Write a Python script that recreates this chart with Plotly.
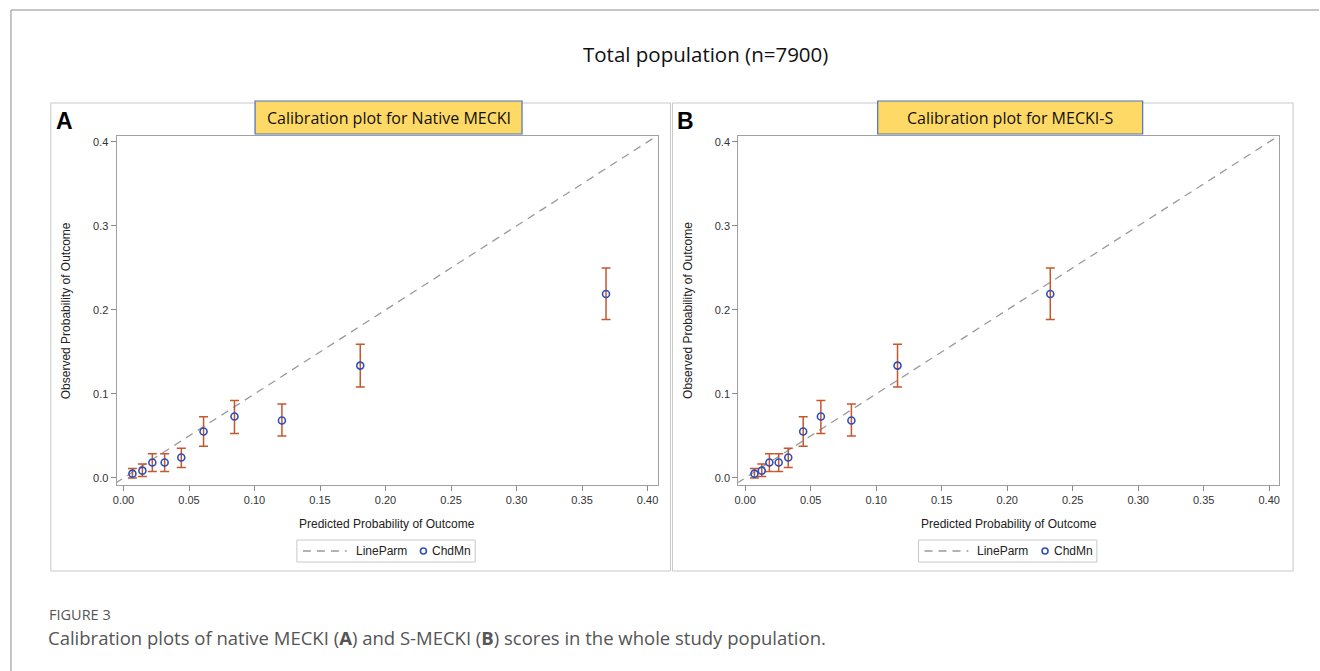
import plotly.graph_objects as go

W, H = 1320, 671

# ---- data ----
pred_native = [0.0068, 0.0144, 0.0220, 0.0314, 0.0441, 0.0611, 0.0847, 0.1209, 0.1807, 0.3683]
pred_s = [0.0071, 0.0127, 0.0185, 0.0256, 0.0329, 0.0443, 0.0578, 0.0811, 0.1163, 0.2329]
observed = [0.0051, 0.0087, 0.0183, 0.0183, 0.0243, 0.0553, 0.0732, 0.0684, 0.1337, 0.2189]
obs_upper = [0.0111, 0.0167, 0.0287, 0.0287, 0.0354, 0.0728, 0.0923, 0.0880, 0.1590, 0.2500]
obs_lower = [0.0000, 0.0016, 0.0076, 0.0076, 0.0123, 0.0378, 0.0529, 0.0498, 0.1083, 0.1887]
line_intercept, line_slope = 0.0, 1.0

x_ticks = [0.00, 0.05, 0.10, 0.15, 0.20, 0.25, 0.30, 0.35, 0.40]
y_ticks = [0.0, 0.1, 0.2, 0.3, 0.4]
x_range = [-0.0053, 0.4076]
y_range = [-0.0084, 0.407]

panel_titles = ["Calibration plot for Native MECKI", "Calibration plot for MECKI-S"]
panel_letters = ["A", "B"]
legend_names = ["LineParm", "ChdMn"]


def px(x):
    return x / W


def py(y):
    return 1 - y / H


ERR_COLOR = "#C4572E"
MK_COLOR = "#2E4FB8"
LINE_COLOR = "#9A9A9A"
SAS_FONT = "Liberation Sans, Arial, sans-serif"

fig = go.Figure()

panels = [
    dict(pred=pred_native, xax="x", yax="y", frame=(113, 656), box=(47, 669), tbox=(252, 520), off=0),
    dict(pred=pred_s, xax="x2", yax="y2", frame=(737, 1280), box=(671, 1294), tbox=(877, 1143), off=624),
]
frame_top, frame_bot = 136, 485

err_plus = [u - o for u, o in zip(obs_upper, observed)]
err_minus = [o - l for o, l in zip(observed, obs_lower)]

shapes = []
annotations = []

for i, p in enumerate(panels):
    lx = [x_range[0] - 0.01, x_range[1] + 0.01]
    ly = [line_intercept + line_slope * v for v in lx]
    fig.add_trace(go.Scatter(
        x=lx, y=ly, mode="lines", name=legend_names[0], showlegend=False,
        line=dict(color=LINE_COLOR, width=1.3, dash="8px,6px"),
        xaxis=p["xax"], yaxis=p["yax"], hoverinfo="skip"))
    fig.add_trace(go.Scatter(
        x=p["pred"], y=observed, mode="markers", name=legend_names[1], showlegend=False,
        marker=dict(symbol="circle-open", size=7, color=MK_COLOR, line=dict(width=1.6, color=MK_COLOR)),
        error_y=dict(type="data", array=err_plus, arrayminus=err_minus, symmetric=False,
                     color=ERR_COLOR, thickness=1.5, width=4.5),
        xaxis=p["xax"], yaxis=p["yax"]))

    # panel boxes
    b0, b1 = p["box"]
    shapes.append(dict(type="rect", xref="paper", yref="paper", x0=px(b0), x1=px(b1), y0=py(571), y1=py(103),
                       line=dict(color="#C8C8C8", width=1), layer="below"))
    # title box
    t0, t1 = p["tbox"]
    shapes.append(dict(type="rect", xref="paper", yref="paper", x0=px(t0), x1=px(t1), y0=py(134), y1=py(101),
                       line=dict(color="#4A72C0", width=1.2), fillcolor="#FFD966", layer="above"))
    annotations.append(dict(text=panel_titles[i], xref="paper", yref="paper", x=px((t0 + t1) / 2), y=py(117.5),
                            showarrow=False, font=dict(family="Open Sans, sans-serif", size=16, color="#111"),
                            xanchor="center", yanchor="middle"))
    annotations.append(dict(text="<b>" + panel_letters[i] + "</b>", xref="paper", yref="paper",
                            x=px(b0 + 3), y=py(121), showarrow=False, xanchor="left", yanchor="middle",
                            font=dict(family=SAS_FONT, size=23, color="#000")))
    f0, f1 = p["frame"]
    annotations.append(dict(text="Predicted Probability of Outcome", xref="paper", yref="paper",
                            x=px((f0 + f1) / 2), y=py(524), showarrow=False, xanchor="center", yanchor="middle",
                            font=dict(family=SAS_FONT, size=12, color="#222")))
    annotations.append(dict(text="Observed Probability of Outcome", xref="paper", yref="paper",
                            x=px(f0 - 50), y=py((frame_top + frame_bot) / 2), showarrow=False, textangle=-90,
                            xanchor="center", yanchor="middle",
                            font=dict(family=SAS_FONT, size=12, color="#222")))

    # custom legend
    o = p["off"]
    shapes.append(dict(type="rect", xref="paper", yref="paper", x0=px(294 + o), x1=px(473 + o),
                       y0=py(562), y1=py(540), line=dict(color="#C8C8C8", width=1), fillcolor="white"))
    shapes.append(dict(type="line", xref="paper", yref="paper", x0=px(300 + o), x1=px(344 + o),
                       y0=py(551), y1=py(551), line=dict(color=LINE_COLOR, width=1.3, dash="8px,6px")))
    annotations.append(dict(text=legend_names[0], xref="paper", yref="paper", x=px(351 + o), y=py(551),
                            showarrow=False, xanchor="left", yanchor="middle",
                            font=dict(family=SAS_FONT, size=12, color="#222")))
    shapes.append(dict(type="circle", xref="paper", yref="paper", x0=px(418 + o), x1=px(424 + o),
                       y0=py(554), y1=py(548), line=dict(color=MK_COLOR, width=1.6)))
    annotations.append(dict(text=legend_names[1], xref="paper", yref="paper", x=px(428 + o), y=py(551),
                            showarrow=False, xanchor="left", yanchor="middle",
                            font=dict(family=SAS_FONT, size=12, color="#222")))

axis_common = dict(showline=True, mirror=True, linecolor="#A0A0A0", linewidth=1, showgrid=False, zeroline=False,
                   ticks="outside", ticklen=5, tickcolor="#8A8A8A",
                   tickfont=dict(family=SAS_FONT, size=11, color="#333"))

fig.update_layout(
    width=W, height=H, margin=dict(l=0, r=0, t=0, b=0),
    paper_bgcolor="white", plot_bgcolor="white", showlegend=False,
    xaxis=dict(domain=[px(113), px(656)], range=x_range, anchor="y", tickvals=x_ticks,
               ticktext=[f"{v:.2f}" for v in x_ticks], **axis_common),
    yaxis=dict(domain=[py(frame_bot), py(frame_top)], range=y_range, anchor="x", tickvals=y_ticks,
               ticktext=[f"{v:.1f}" for v in y_ticks], **axis_common),
    xaxis2=dict(domain=[px(737), px(1280)], range=x_range, anchor="y2", tickvals=x_ticks,
                ticktext=[f"{v:.2f}" for v in x_ticks], **axis_common),
    yaxis2=dict(domain=[py(frame_bot), py(frame_top)], range=y_range, anchor="x2", tickvals=y_ticks,
                ticktext=[f"{v:.1f}" for v in y_ticks], **axis_common),
)

# outer figure border
shapes.append(dict(type="line", xref="paper", yref="paper", x0=px(7), x1=px(1320), y0=py(10), y1=py(10),
                   line=dict(color="#8C8C8C", width=1)))
shapes.append(dict(type="line", xref="paper", yref="paper", x0=px(7), x1=px(7), y0=py(10), y1=py(671),
                   line=dict(color="#8C8C8C", width=1)))

annotations.append(dict(text="Total population (n=7900)", xref="paper", yref="paper", x=px(704), y=py(54),
                        showarrow=False, xanchor="center", yanchor="middle",
                        font=dict(family="Open Sans, sans-serif", size=20.5, color="#111")))
annotations.append(dict(text="FIGURE 3", xref="paper", yref="paper", x=px(43), y=py(614),
                        showarrow=False, xanchor="left", yanchor="middle",
                        font=dict(family="Open Sans, sans-serif", size=14.5, color="#555")))
annotations.append(dict(text="Calibration plots of native MECKI (<b>A</b>) and S-MECKI (<b>B</b>) scores in the whole study population.",
                        xref="paper", yref="paper", x=px(42), y=py(637),
                        showarrow=False, xanchor="left", yanchor="middle",
                        font=dict(family="Open Sans, sans-serif", size=18.5, color="#555")))

fig.update_layout(shapes=shapes, annotations=annotations)
fig.write_html("out.html", config={"displayModeBar": False},
               post_script="document.body.style.margin='0px';document.body.style.overflow='hidden';")
